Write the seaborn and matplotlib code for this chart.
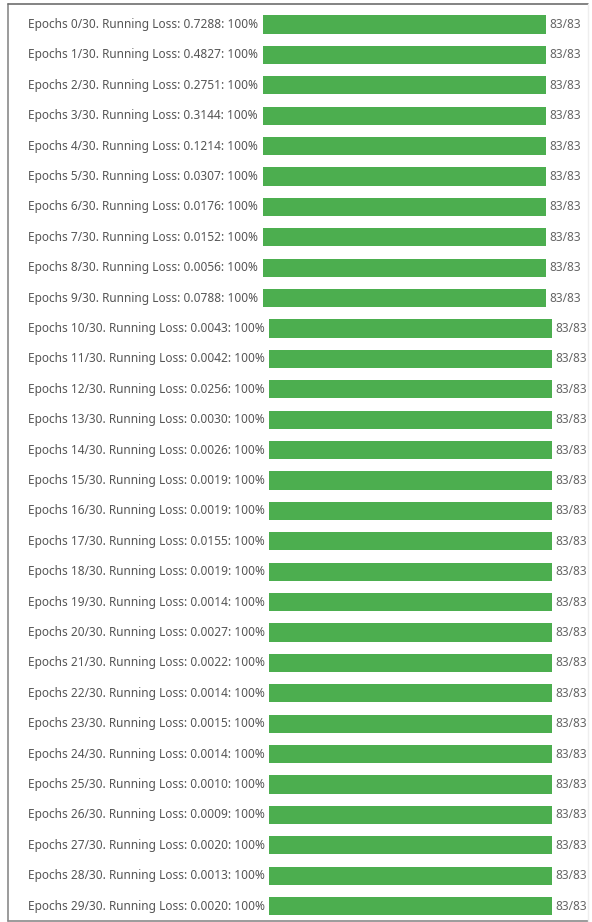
import matplotlib
matplotlib.use("Agg")
import matplotlib.pyplot as plt
import matplotlib.transforms as mtransforms
from matplotlib.lines import Line2D
import seaborn as sns
import pandas as pd

# ---- data ----
total_epochs = 30
epochs = list(range(30))
running_loss = [0.7288, 0.4827, 0.2751, 0.3144, 0.1214, 0.0307, 0.0176, 0.0152, 0.0056, 0.0788,
                0.0043, 0.0042, 0.0256, 0.0030, 0.0026, 0.0019, 0.0019, 0.0155, 0.0019, 0.0014,
                0.0027, 0.0022, 0.0014, 0.0015, 0.0014, 0.0010, 0.0009, 0.0020, 0.0013, 0.0020]
completed = [83] * 30
total_steps = 83
percent = [100] * 30

df = pd.DataFrame({"epoch": epochs, "loss": running_loss, "done": completed, "pct": percent})
df["row"] = df["epoch"].astype(str)

sns.set_style("white")
plt.rcParams["font.family"] = ["Noto Sans", "DejaVu Sans"]

W, H = 592, 922
fig = plt.figure(figsize=(W / 100, H / 100), dpi=100)
fig.patch.set_facecolor("white")

bar_color = "#4cae4f"
text_color = "#555555"
fs = 8.55
pitch = 30.4

groups = [
    (df[df.epoch < 10], 263, 24.5),
    (df[df.epoch >= 10], 269, 24.5 + 10 * pitch),
]
bar_w_px = 283

for sub, left_px, first_center in groups:
    n = len(sub)
    top_px = first_center - pitch / 2
    bot_px = top_px + n * pitch
    ax = fig.add_axes([left_px / W, (H - bot_px) / H, bar_w_px / W, (bot_px - top_px) / H])
    sns.barplot(data=sub, x="done", y="row", orient="h", color=bar_color,
                saturation=1, width=0.6, ax=ax, edgecolor="none")
    ax.set_xlim(0, total_steps)
    ax.set_ylim(n - 0.5, -0.5)
    ax.axis("off")
    trans = mtransforms.blended_transform_factory(fig.transFigure, ax.transData)
    for i, (_, r) in enumerate(sub.iterrows()):
        label = f"Epochs {r.epoch}/{total_epochs}. Running Loss: {r.loss:.4f}: {r.pct}%"
        ax.text(28 / W, i, label, transform=trans, ha="left", va="center",
                fontsize=fs, color=text_color)
        ax.annotate(f"{r.done}/{total_steps}", xy=(r.done, i), xytext=(3, 0),
                    textcoords="offset pixels", ha="left", va="center",
                    fontsize=fs, color="#666666")

# frame of the screenshot
lc = "#8a8a8a"
fig.add_artist(Line2D([7.5 / W, 7.5 / W], [1 - 4 / H, 1 - 920.5 / H], transform=fig.transFigure,
                      color=lc, lw=1.2))
fig.add_artist(Line2D([7.5 / W, 588 / W], [1 - 4 / H, 1 - 4 / H], transform=fig.transFigure,
                      color="#6e6e6e", lw=1.2))
fig.add_artist(Line2D([7.5 / W, 588 / W], [1 - 920.5 / H, 1 - 920.5 / H], transform=fig.transFigure,
                      color=lc, lw=1.2))
fig.add_artist(Line2D([588 / W, 588 / W], [1 - 4 / H, 1 - 920.5 / H], transform=fig.transFigure,
                      color="#eeeeee", lw=1.0))

fig.savefig("out.png", dpi=100, facecolor="white")
